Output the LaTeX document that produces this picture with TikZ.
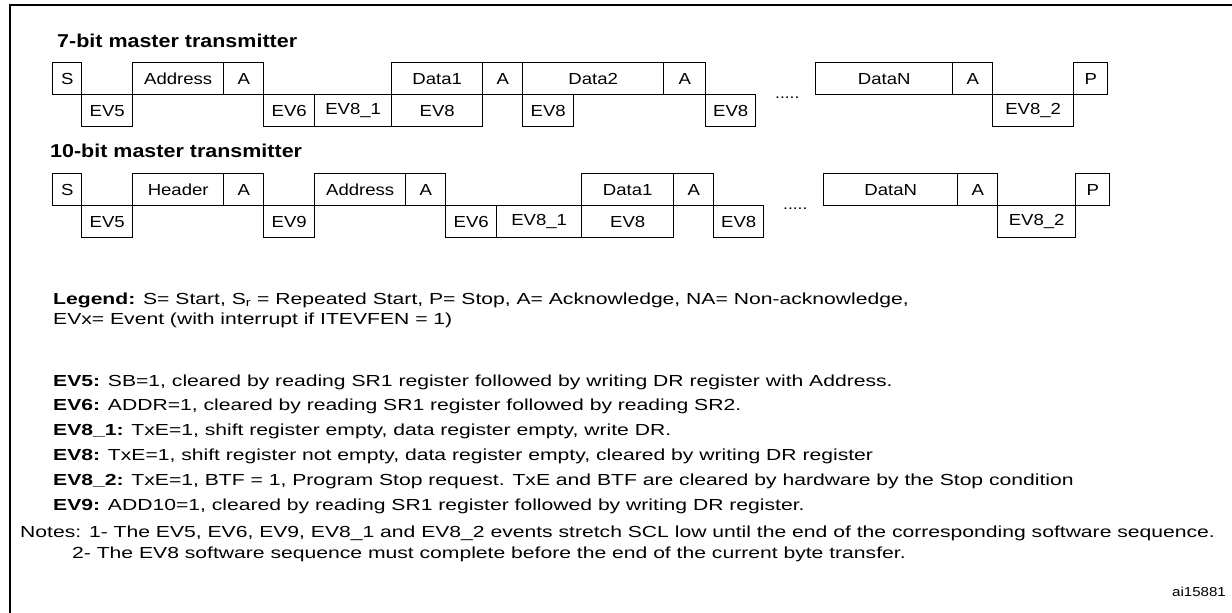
\documentclass[tikz,border=0pt]{standalone}
\usepackage{fontspec}
\setmainfont{Liberation Sans}
\newfontfamily\bodyfont[FakeStretch=1.32]{Liberation Sans}
\newfontfamily\boxfont[FakeStretch=1.16]{Liberation Sans}
\newfontfamily\ttlfont[FakeStretch=1.155]{Liberation Sans}

\begin{document}
\begin{tikzpicture}[x=1pt,y=-1pt,
  fld/.style={draw,line width=1.4pt,inner sep=0pt,anchor=north west,
    minimum height=32pt,font=\boxfont\fontsize{16}{18}\selectfont},
  ttl/.style={anchor=base west,inner sep=0pt,font=\ttlfont\fontsize{18.6}{20}\selectfont\bfseries},
  txt/.style={anchor=base west,inner sep=0pt,font=\bodyfont\fontsize{16}{19}\selectfont},
  gap/.style={anchor=base west,inner sep=0pt,font=\boxfont\fontsize{15}{18}\selectfont}]
  \useasboundingbox (0,0) rectangle (1232,613);
  % frame
  \draw[line width=2.5pt] (10,613) -- (10,5) -- (1232,5);
  % one field of a sequence: name, left, right, top, label
  \newcommand{\seqfld}[5]{%
    \node[fld,minimum width=#3-#2] (#1) at (#2,#4) {#5};%
  }

  % 7-bit master transmitter
  \node[ttl] (t7) at (57,47) {7-bit master transmitter};
  \seqfld{sa}{52}{81}{62}{S}
  \seqfld{evfa}{81}{132}{94}{EV5}
  \seqfld{adra}{132}{223}{62}{Address}
  \seqfld{acka}{223}{263}{62}{A}
  \seqfld{evsa}{263}{314}{94}{EV6}
  \seqfld{evea}{314}{391}{94}{EV8\_1}
  \seqfld{dona}{391}{482}{62}{Data1}
  \seqfld{eva}{391}{482}{94}{EV8}
  \seqfld{ackb}{482}{522}{62}{A}
  \seqfld{dtwa}{522}{663}{62}{Data2}
  \seqfld{evb}{522}{573}{94}{EV8}
  \seqfld{ackc}{663}{705}{62}{A}
  \seqfld{evc}{705}{755}{94}{EV8}
  \node[gap] (gapa) at (775,98) {.....};
  \seqfld{dna}{815}{952}{62}{DataN}
  \seqfld{ackd}{952}{992}{62}{A}
  \seqfld{evta}{992}{1073}{94}{EV8\_2}
  \seqfld{pa}{1073}{1107}{62}{P}

  % 10-bit master transmitter
  \node[ttl] (t10) at (50,157) {10-bit master transmitter};
  \seqfld{sb}{52}{81}{173}{S}
  \seqfld{evfb}{81}{132}{205}{EV5}
  \seqfld{hdb}{132}{223}{173}{Header}
  \seqfld{acke}{223}{263}{173}{A}
  \seqfld{evnb}{263}{314}{205}{EV9}
  \seqfld{adrb}{314}{405}{173}{Address}
  \seqfld{ackf}{405}{445}{173}{A}
  \seqfld{evsb}{445}{496}{205}{EV6}
  \seqfld{eveb}{496}{581}{205}{EV8\_1}
  \seqfld{donb}{581}{673}{173}{Data1}
  \seqfld{evd}{581}{673}{205}{EV8}
  \seqfld{ackg}{673}{713}{173}{A}
  \seqfld{eve}{713}{763}{205}{EV8}
  \node[gap] (gapb) at (783,209) {.....};
  \seqfld{dnb}{823}{957}{173}{DataN}
  \seqfld{ackh}{957}{997}{173}{A}
  \seqfld{evtb}{997}{1075}{205}{EV8\_2}
  \seqfld{pb}{1075}{1109}{173}{P}

  % legend and events
  \node[txt] (lega) at (53,304) {\textbf{Legend:} S= Start, S\textsubscript{r} = Repeated Start, P= Stop, A= Acknowledge, NA= Non-acknowledge,};
  \node[txt] (legb) at (53,324) {EVx= Event (with interrupt if ITEVFEN = 1)};
  \node[txt] (nfive) at (53,386) {\textbf{EV5:} SB=1, cleared by reading SR1 register followed by writing DR register with Address.};
  \node[txt] (nsix) at (53,410) {\textbf{EV6:} ADDR=1, cleared by reading SR1 register followed by reading SR2.};
  \node[txt] (neone) at (53,435) {\textbf{EV8\_1:} TxE=1, shift register empty, data register empty, write DR.};
  \node[txt] (neight) at (53,460) {\textbf{EV8:} TxE=1, shift register not empty, data register empty, cleared by writing DR register};
  \node[txt] (netwo) at (53,485) {\textbf{EV8\_2:} TxE=1, BTF = 1, Program Stop request. TxE and BTF are cleared by hardware by the Stop condition};
  \node[txt] (nnine) at (53,510) {\textbf{EV9:} ADD10=1, cleared by reading SR1 register followed by writing DR register.};

  % notes
  \node[txt] (nota) at (20,537) {Notes: 1- The EV5, EV6, EV9, EV8\_1 and EV8\_2 events stretch SCL low until the end of the corresponding software sequence.};
  \node[txt] (notb) at (72,558) {2- The EV8 software sequence must complete before the end of the current byte transfer.};
  \node[anchor=base east,inner sep=0pt,font=\boxfont\fontsize{13}{16}\selectfont] (ref) at (1226,596) {ai15881};
\end{tikzpicture}
\end{document}
